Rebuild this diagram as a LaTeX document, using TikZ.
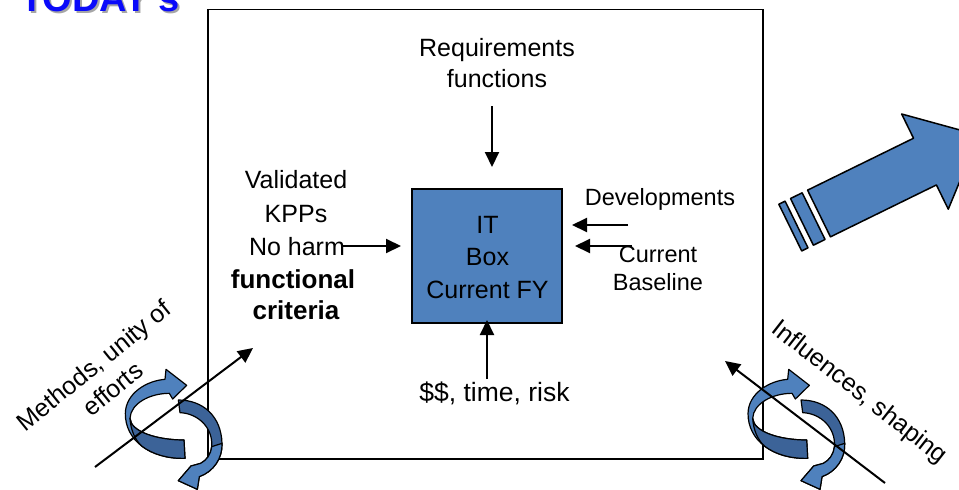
\documentclass[tikz,border=0pt]{standalone}
\usepackage{fontspec}
\setmainfont{Liberation Sans}
\usetikzlibrary{arrows.meta}
\definecolor{boxblue}{RGB}{79,129,189}
\definecolor{darkblue}{RGB}{60,99,152}
\definecolor{titleblue}{RGB}{10,10,250}
\begin{document}
\begin{tikzpicture}[x=1pt,y=-1pt,
  lbl/.style={font=\fontsize{25}{30}\selectfont, inner sep=0pt, anchor=base},
  lblsm/.style={font=\fontsize{23.5}{28}\selectfont, inner sep=0pt, anchor=base},
  lblbold/.style={font=\fontsize{26}{30}\selectfont\bfseries, inner sep=0pt, anchor=base},
  titletxt/.style={font=\fontsize{38}{40}\selectfont\bfseries, inner sep=0pt, anchor=base west},
  arr/.style={line width=2pt, -{Triangle[length=15pt,width=14pt]}},
  outl/.style={draw=black, line width=1.2pt, line join=round},
  twistpair/.pic={
    % upper curved arrow
    \filldraw[fill=boxblue, outl] (225,295) .. controls (120,298) and (45,240) .. (46,160)
       .. controls (47,100) and (110,62) .. (165,58) -- (168,28) -- (230,76) -- (188,117) -- (178,100)
       .. controls (120,100) and (62,130) .. (60,175)
       .. controls (62,215) and (140,240) .. (222,240) -- cycle;
    \filldraw[fill=darkblue, outl] (60,175) .. controls (62,215) and (140,240) .. (222,240)
       -- (225,295) .. controls (172.5,296.5) and (127.5,282.75) .. (95.75,258.6)
       .. controls (75,240) and (62,210) .. (60,175) -- cycle;
    % lower curved arrow
    \filldraw[fill=darkblue, outl] (205,120) -- (210,158) .. controls (265,160) and (310,205) .. (305,260)
       .. controls (302,285) and (290,300) .. (272,310) -- (243,318) -- (205,362) -- (262,388) -- (268,350)
       .. controls (310,335) and (338,295) .. (336,250)
       .. controls (334,170) and (280,120) .. (205,120) -- cycle;
    \filldraw[fill=boxblue, outl] (305,260) .. controls (302,285) and (290,300) .. (272,310)
       -- (243,318) -- (205,362) -- (262,388) -- (268,350)
       .. controls (310,335) and (338,295) .. (336,250) -- cycle;
  }
]
\useasboundingbox (0,0) rectangle (959,490);
\clip (0,0) rectangle (959,490);

% title
\node[titletxt, text=black!35] (titleshadow) at (22,13) {TODAY's};
\node[titletxt, text=titleblue] (title) at (20,11) {TODAY's};

% main frame
\node[draw, line width=1.8pt, minimum width=555pt, minimum height=449.5pt, inner sep=0pt, anchor=north west] (frame) at (207,8.5) {};

% IT box
\node[draw, fill=boxblue, line width=1.5pt, minimum width=150pt, minimum height=134pt, inner sep=0pt] (itbox) at (487,256) {};
\node[lbl] (it1) at (487.5,233) {IT};
\node[lbl] (it2) at (487.5,265.5) {Box};
\node[lbl] (it3) at (487.5,298) {Current FY};

% top input
\node[lbl] (req1) at (497,56) {Requirements};
\node[lbl] (req2) at (497,87) {functions};
\coordinate (reqA) at (492,106);
\coordinate (reqB) at (492,167);
\draw[arr] (reqA) -- (reqB);

% bottom input
\node[lbl, font=\fontsize{26.5}{30}\selectfont] (money) at (494.5,401) {\$\$, time, risk};
\coordinate (monA) at (487,379);
\coordinate (monB) at (487,320);
\draw[arr] (monA) -- (monB);

% left input
\node[lbl] (v1) at (296,188) {Validated};
\node[lbl] (v2) at (296,222) {KPPs};
\node[lbl] (v3) at (297,255) {No harm};
\node[lblbold] (v4) at (293,288) {functional};
\node[lblbold] (v5) at (296,319) {criteria};
\coordinate (harmA) at (343,246);
\coordinate (harmB) at (401,246);
\draw[arr] (harmA) -- (harmB);

% right inputs
\node[lblsm] (dev) at (660,205) {Developments};
\node[lblsm] (cb1) at (658,262) {Current};
\node[lblsm] (cb2) at (658,290) {Baseline};
\coordinate (devA) at (628,225);
\coordinate (devB) at (572,225);
\draw[arr] (devA) -- (devB);
\coordinate (cbA) at (632,246);
\coordinate (cbB) at (575,246);
\draw[arr] (cbA) -- (cbB);

% big striped arrow
\begin{scope}[shift={(819,213.5)}, x={(0.898pt,0.440pt)}, y={(0.440pt,-0.898pt)}]
  \filldraw[fill=boxblue, outl, line width=1.5pt] (0,-26) -- (118,-26) -- (118,-53) -- (178,0) -- (118,53) -- (118,26) -- (0,26) -- cycle;
  \filldraw[fill=boxblue, outl, line width=1.5pt] (-19,-26) -- (-6,-26) -- (-6,26) -- (-19,26) -- cycle;
  \filldraw[fill=boxblue, outl, line width=1.5pt] (-32,-26) -- (-25,-26) -- (-25,26) -- (-32,26) -- cycle;
\end{scope}

% rotating arrows
\pic[scale=1/3] at (110,360) {twistpair};
\pic[scale=1/3] at (732.7,360) {twistpair};

% diagonal lines
\coordinate (mA) at (95,467);
\coordinate (mB) at (253,348);
\draw[arr] (mA) -- (mB);
\coordinate (iA) at (885,483);
\coordinate (iB) at (725,361);
\draw[arr] (iA) -- (iB);

% rotated labels
\node[font=\fontsize{25}{30}\selectfont, align=center, rotate=39, inner sep=0pt] (methods) at (103,377) {Methods, unity of\\efforts};
\node[font=\fontsize{25}{30}\selectfont, rotate=-38, inner sep=0pt] (influences) at (859,393) {Influences, shaping};
\end{tikzpicture}
\end{document}
